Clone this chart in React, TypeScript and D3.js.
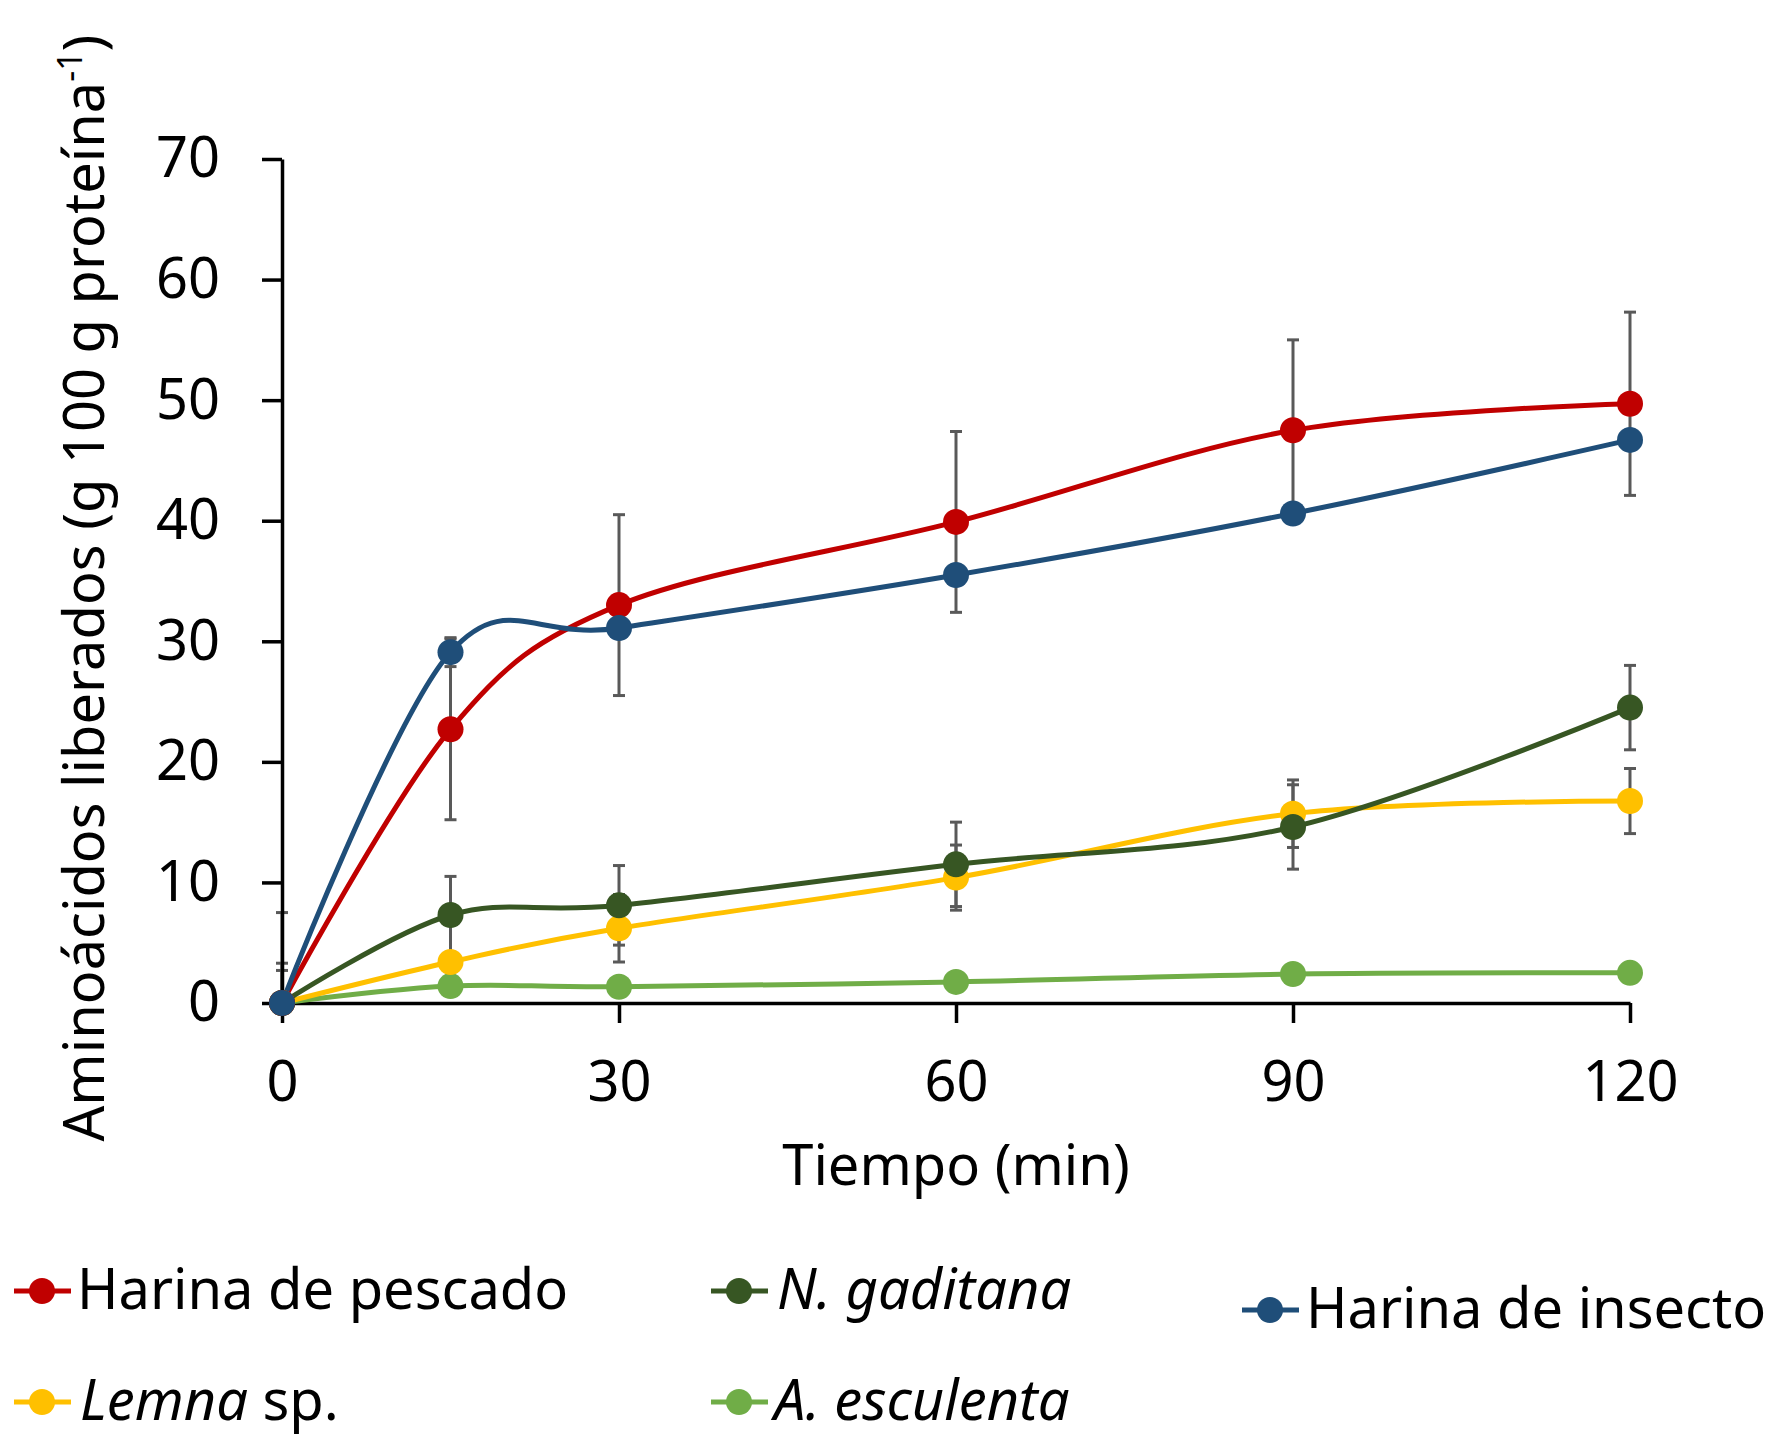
import React, { useRef, useEffect } from "react";
import * as d3 from "d3";

// Tiempo de digestión (min)
const times = [0, 15, 30, 60, 90, 120];

// Aminoácidos liberados (g 100 g proteína-1) y error por serie
const harinaPescado = [0, 22.7, 33.0, 39.9, 47.5, 49.7];
const errPescado = [7.5, 7.5, 7.5, 7.5, 7.5, 7.6];
const nGaditana = [0, 7.3, 8.1, 11.5, 14.6, 24.5];
const errGaditana = [3.3, 3.2, 3.3, 3.5, 3.5, 3.5];
const harinaInsecto = [0, 29.1, 31.1, 35.5, 40.6, 46.7];
const errInsecto = [0, 1.2, 0.8, 0.8, 0.8, 0.8];
const lemna = [0, 3.4, 6.2, 10.4, 15.7, 16.75];
const errLemna = [2.7, 0.8, 2.8, 2.7, 2.8, 2.7];
const esculenta = [0, 1.4, 1.35, 1.75, 2.4, 2.5];
const errEsculenta = [0.2, 0.3, 0.3, 0.3, 0.3, 0.3];

const xTicks = [0, 30, 60, 90, 120];
const yTicks = [0, 10, 20, 30, 40, 50, 60, 70];

const series = [
  { key: "esculenta", name: "A. esculenta", values: esculenta, err: errEsculenta, color: "#70AD47" },
  { key: "lemna", name: "Lemna sp.", values: lemna, err: errLemna, color: "#FFC000" },
  { key: "gaditana", name: "N. gaditana", values: nGaditana, err: errGaditana, color: "#375623" },
  { key: "pescado", name: "Harina de pescado", values: harinaPescado, err: errPescado, color: "#C00000" },
  { key: "insecto", name: "Harina de insecto", values: harinaInsecto, err: errInsecto, color: "#1F4E79" },
];

const FONT = "'Noto Sans', 'Open Sans', sans-serif";

const App = () => {
  const xAxisRef = useRef<SVGGElement>(null);
  const yAxisRef = useRef<SVGGElement>(null);

  const width = 1784;
  const height = 1435;

  const x = d3.scaleLinear().domain([0, 120]).range([282, 1630]);
  const y = d3.scaleLinear().domain([0, 70]).range([1003, 159]);

  useEffect(() => {
    const xAxis = d3
      .axisBottom(x)
      .tickValues(xTicks)
      .tickSize(20)
      .tickSizeOuter(0)
      .tickPadding(38);
    const yAxis = d3
      .axisLeft(y)
      .tickValues(yTicks)
      .tickSize(20)
      .tickSizeOuter(0)
      .tickPadding(42);

    const gx = d3.select(xAxisRef.current).call(xAxis);
    const gy = d3.select(yAxisRef.current).call(yAxis);

    [gx, gy].forEach((g) => {
      g.select(".domain").attr("stroke", "#000").attr("stroke-width", 3.5);
      g.selectAll(".tick line").attr("stroke", "#000").attr("stroke-width", 3.5);
      g.selectAll(".tick text")
        .attr("fill", "#000")
        .style("font-family", FONT)
        .style("font-size", "56px");
    });
  }, []);

  const line = d3
    .line<number>()
    .x((_, i) => x(times[i]))
    .y((d) => y(d))
    .curve(d3.curveCardinal.tension(0));

  const legendItems = [
    { s: series[3], lx: 14, tx: 77, cy: 1291, ty: 1309 },
    { s: series[2], lx: 711, tx: 777, cy: 1291, ty: 1309 },
    { s: series[4], lx: 1242, tx: 1306, cy: 1310, ty: 1328 },
    { s: series[1], lx: 14, tx: 80, cy: 1402, ty: 1420 },
    { s: series[0], lx: 711, tx: 774, cy: 1402, ty: 1420 },
  ];

  const renderName = (key: string, name: string) => {
    if (key === "pescado" || key === "insecto") return name;
    if (key === "lemna")
      return (
        <>
          <tspan fontStyle="italic">Lemna</tspan>
          <tspan> sp.</tspan>
        </>
      );
    return <tspan fontStyle="italic">{name}</tspan>;
  };

  return (
    <svg
      width={width}
      height={height}
      style={{ position: "absolute", left: 0, top: 0, background: "#fff" }}
      fontFamily={FONT}
    >
      {/* Error bars (clipped at the x axis) */}
      <g stroke="#595959" strokeWidth={3}>
        {series.map((s) =>
          s.values.map((v, i) => {
            if (s.err[i] <= 0) return null;
            const cx = x(times[i]);
            const top = y(v + s.err[i]);
            const low = v - s.err[i];
            const bottom = y(Math.max(0, low));
            return (
              <g key={`${s.key}-e${i}`}>
                <line x1={cx} x2={cx} y1={top} y2={bottom} />
                <line x1={cx - 6} x2={cx + 6} y1={top} y2={top} />
                {low >= 0 && <line x1={cx - 6} x2={cx + 6} y1={bottom} y2={bottom} />}
              </g>
            );
          })
        )}
      </g>

      {/* Axes */}
      <g ref={yAxisRef} transform="translate(282,0)" />
      <g ref={xAxisRef} transform="translate(0,1003)" />

      {/* Lines */}
      {series.map((s) => (
        <path key={s.key} d={line(s.values) || ""} fill="none" stroke={s.color} strokeWidth={5} />
      ))}

      {/* Markers */}
      {series.map((s) =>
        s.values.map((v, i) => (
          <circle key={`${s.key}-m${i}`} cx={x(times[i])} cy={y(v)} r={13} fill={s.color} />
        ))
      )}

      {/* Axis titles */}
      <text
        transform="translate(104,588) rotate(-90)"
        textAnchor="middle"
        fontSize={56}
        fill="#000"
      >
        Aminoácidos liberados (g 100 g proteína
        <tspan dy={-22} fontSize={34}>-1</tspan>
        <tspan dy={22}>)</tspan>
      </text>
      <text x={956} y={1185} textAnchor="middle" fontSize={56} fill="#000">
        Tiempo (min)
      </text>

      {/* Legend */}
      {legendItems.map(({ s, lx, tx, cy, ty }) => (
        <g key={`leg-${s.key}`}>
          <line x1={lx} x2={lx + 57} y1={cy} y2={cy} stroke={s.color} strokeWidth={5} />
          <circle cx={lx + 28} cy={cy} r={13} fill={s.color} />
          <text x={tx} y={ty} fontSize={56} fill="#000">
            {renderName(s.key, s.name)}
          </text>
        </g>
      ))}
    </svg>
  );
};

export default App;
